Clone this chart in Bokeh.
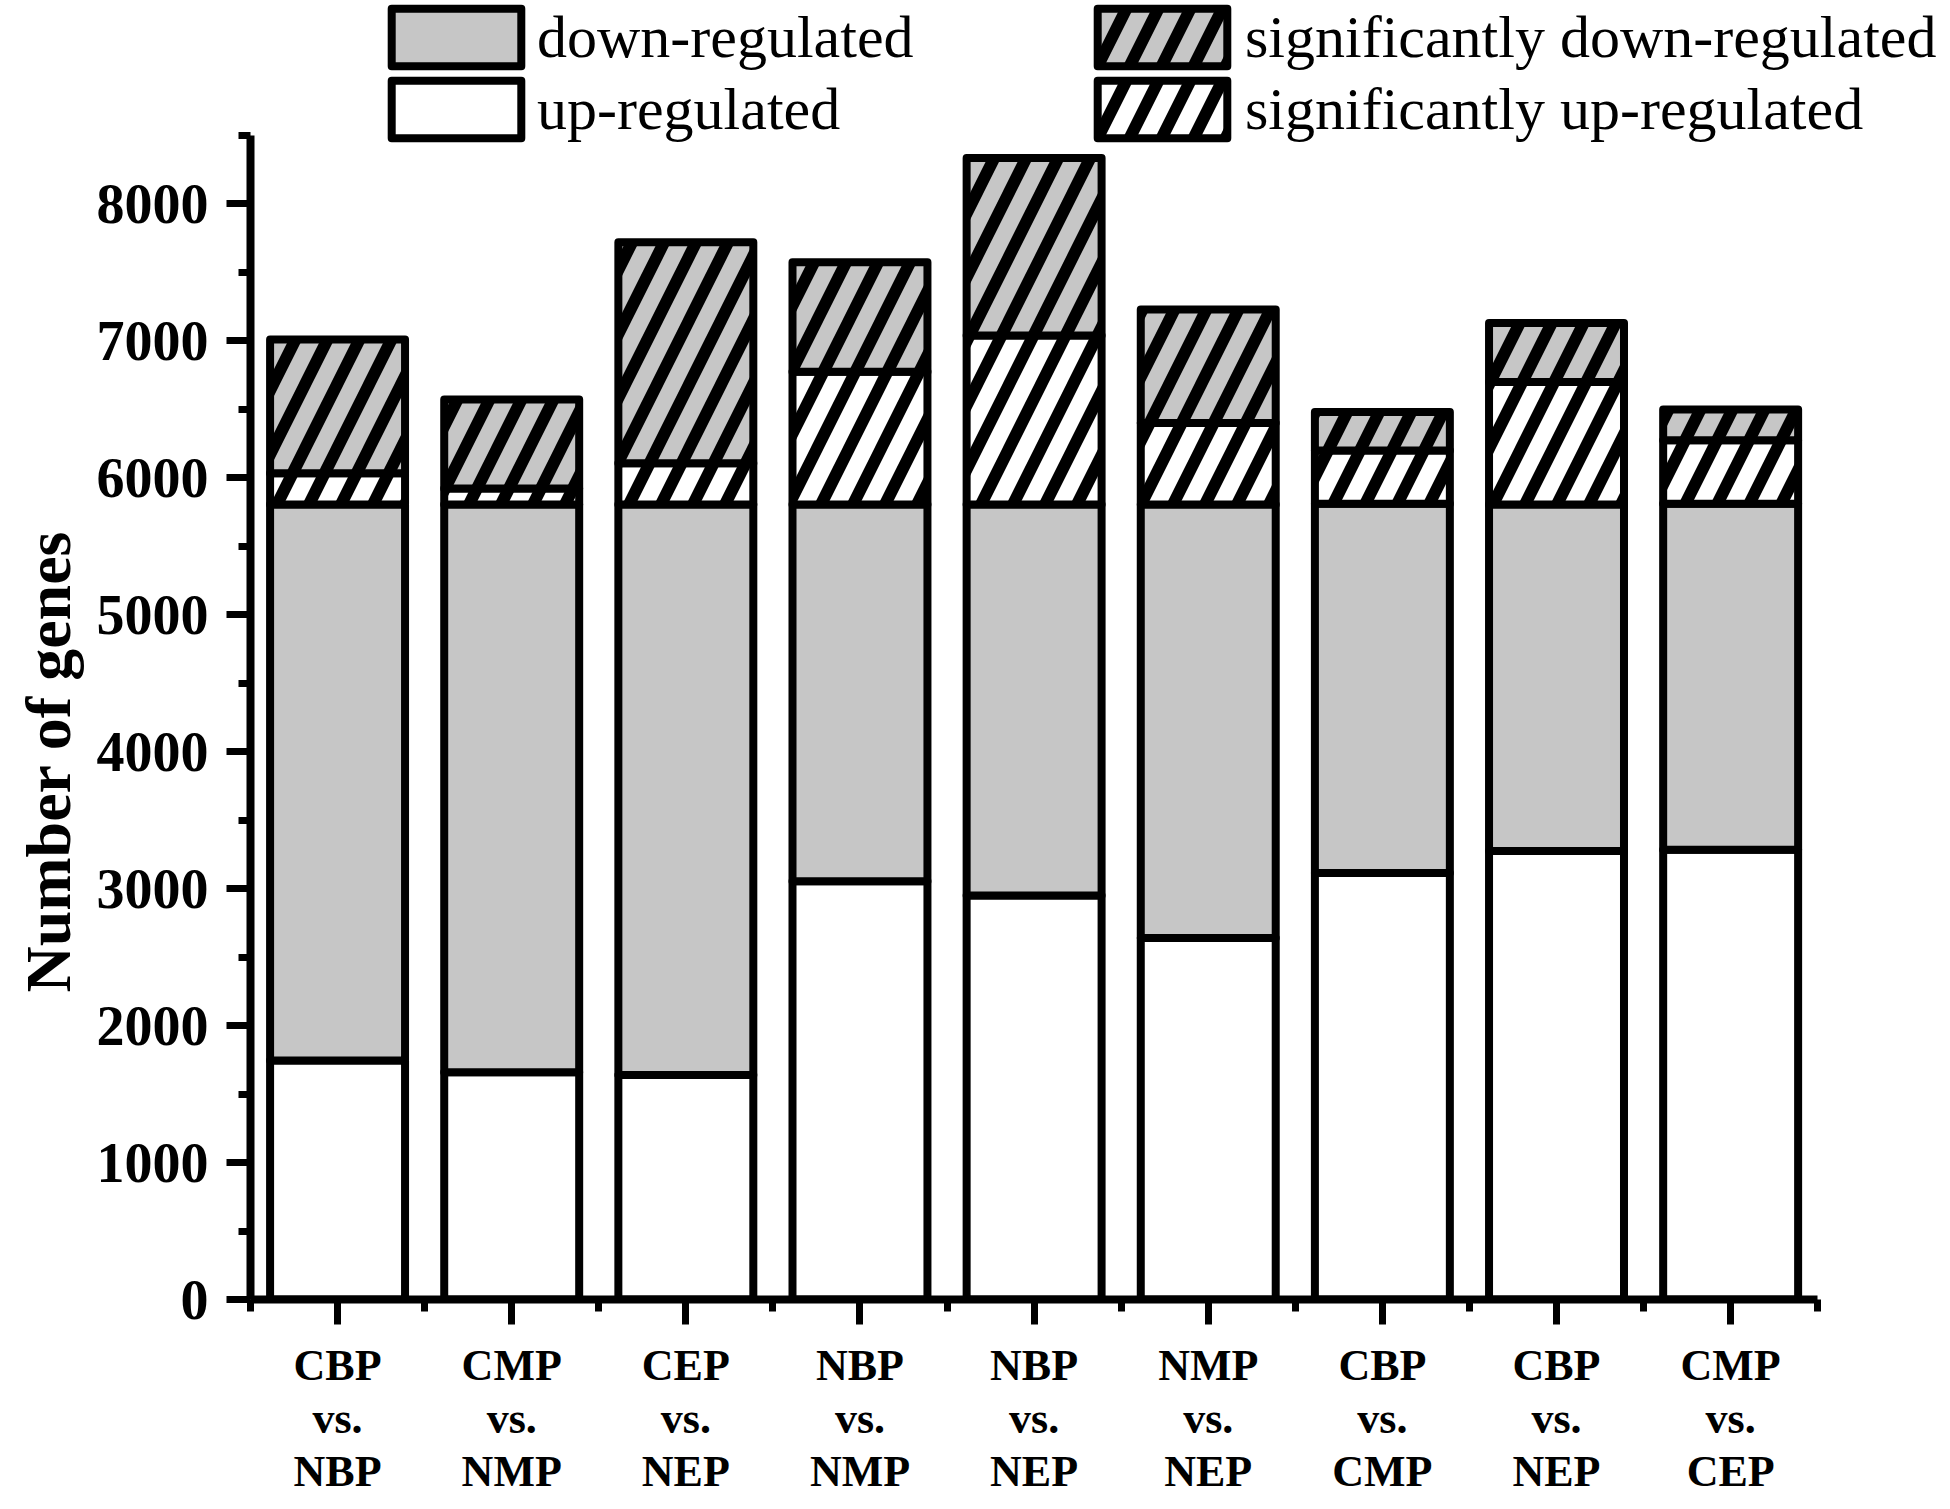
from bokeh.plotting import figure
from bokeh.models import (ColumnDataSource, FixedTicker, Legend, LegendItem, Range1d,
                          Title)
from bokeh.embed import file_html
from bokeh.resources import INLINE

# ---- data ----
categories = ["CBP\nvs.\nNBP", "CMP\nvs.\nNMP", "CEP\nvs.\nNEP", "NBP\nvs.\nNMP",
              "NBP\nvs.\nNEP", "NMP\nvs.\nNEP", "CBP\nvs.\nCMP", "CBP\nvs.\nNEP",
              "CMP\nvs.\nCEP"]
up_regulated = [1745, 1660, 1640, 3055, 2950, 2640, 3115, 3275, 3285]
down_regulated = [4060, 4145, 4165, 2750, 2855, 3165, 2695, 2530, 2525]
sig_up_regulated = [228, 118, 301, 970, 1235, 595, 390, 895, 465]
sig_down_regulated = [977, 650, 1614, 800, 1295, 830, 280, 430, 225]
series_names = ["up-regulated", "down-regulated",
                "significantly up-regulated", "significantly down-regulated"]
y_ticks = [0, 1000, 2000, 3000, 4000, 5000, 6000, 7000, 8000]
y_minor = [500, 1500, 2500, 3500, 4500, 5500, 6500, 7500, 8500]
y_axis_max = 8500

GRAY = "#c6c6c6"
FONT = "Liberation Serif"

n = len(categories)
x = list(range(n))
source = ColumnDataSource(dict(x=x, up=up_regulated, down=down_regulated,
                               sigup=sig_up_regulated, sigdown=sig_down_regulated))

# frame: 1693 x 1299 px; the axes occupy 1570 x 1164 px of it
W, H = 1940, 1507
left_border, bottom_border = 247, 208
frame_w, frame_h = W - left_border, H - bottom_border
axis_w, axis_h = 1570, 1164
x_end = -0.5 + n * frame_w / axis_w
y_end = y_axis_max * frame_h / axis_h

p = figure(width=W, height=H, output_backend="svg", toolbar_location=None,
           x_range=Range1d(-0.5, x_end), y_range=Range1d(0, y_end),
           min_border_left=left_border, min_border_right=0, min_border_top=0,
           min_border_bottom=bottom_border)
p.outline_line_color = None
p.xgrid.visible = False
p.ygrid.visible = False
p.background_fill_color = "white"

renderers = p.vbar_stack(["up", "down", "sigup", "sigdown"], x="x", width=0.775,
                         source=source,
                         fill_color=["white", GRAY, "white", GRAY],
                         line_color="black", line_width=8, line_join="round",
                         hatch_pattern=[" ", " ", "/", "/"],
                         hatch_color="black", hatch_scale=64, hatch_weight=12)
r_up, r_down, r_sigup, r_sigdown = renderers

# ---- axes ----
xa = p.xaxis[0]
xa.bounds = (-0.5, n - 0.5)
xa.ticker = FixedTicker(ticks=x, minor_ticks=[i + 0.5 for i in range(-1, n)])
xa.major_label_overrides = {i: c for i, c in enumerate(categories)}
xa.major_label_text_font = FONT
xa.major_label_text_font_style = "bold"
xa.major_label_text_font_size = "44px"
xa.major_label_text_line_height = 1.09
xa.major_label_standoff = 16

ya = p.yaxis[0]
ya.bounds = (0, y_axis_max)
ya.ticker = FixedTicker(ticks=y_ticks, minor_ticks=y_minor)
ya.major_label_text_font = FONT
ya.major_label_text_font_style = "bold"
ya.major_label_text_font_size = "56px"
ya.major_label_standoff = 18

for ax in (xa, ya):
    ax.axis_line_width = 8
    ax.axis_line_color = "black"
    ax.major_tick_line_width = 7
    ax.minor_tick_line_width = 7
    ax.major_tick_line_color = "black"
    ax.minor_tick_line_color = "black"
    ax.major_tick_in = 0
    ax.minor_tick_in = 0
    ax.major_label_text_color = "black"
xa.major_tick_out = 25
xa.minor_tick_out = 12
ya.major_tick_out = 24
ya.minor_tick_out = 12

# y-axis title: starts 307 px above the x axis, reading upwards
ylabel = Title(text="Number of genes", align="left", offset=307,
               text_font=FONT, text_font_style="bold", text_font_size="64px",
               text_color="black", standoff=20)
p.add_layout(ylabel, "left")

# ---- legends ----
GH = 72
common = dict(orientation="vertical", glyph_width=162, glyph_height=GH, spacing=0,
              padding=0, margin=0, label_text_font=FONT, label_text_font_size="60px",
              label_text_color="black",
              border_line_color=None, background_fill_alpha=0)
leg_y = frame_h - 2 * GH - 1
legA = Legend(items=[LegendItem(label=series_names[1], renderers=[r_down]),
                     LegendItem(label=series_names[0], renderers=[r_up])],
              location=(125, leg_y), label_standoff=0, **common)
legB = Legend(items=[LegendItem(label=series_names[3], renderers=[r_sigdown]),
                     LegendItem(label=series_names[2], renderers=[r_sigup])],
              location=(831, leg_y), label_standoff=2, **common)
p.add_layout(legA, "center")
p.add_layout(legB, "center")

open("out.html", "w").write(file_html(p, INLINE))
